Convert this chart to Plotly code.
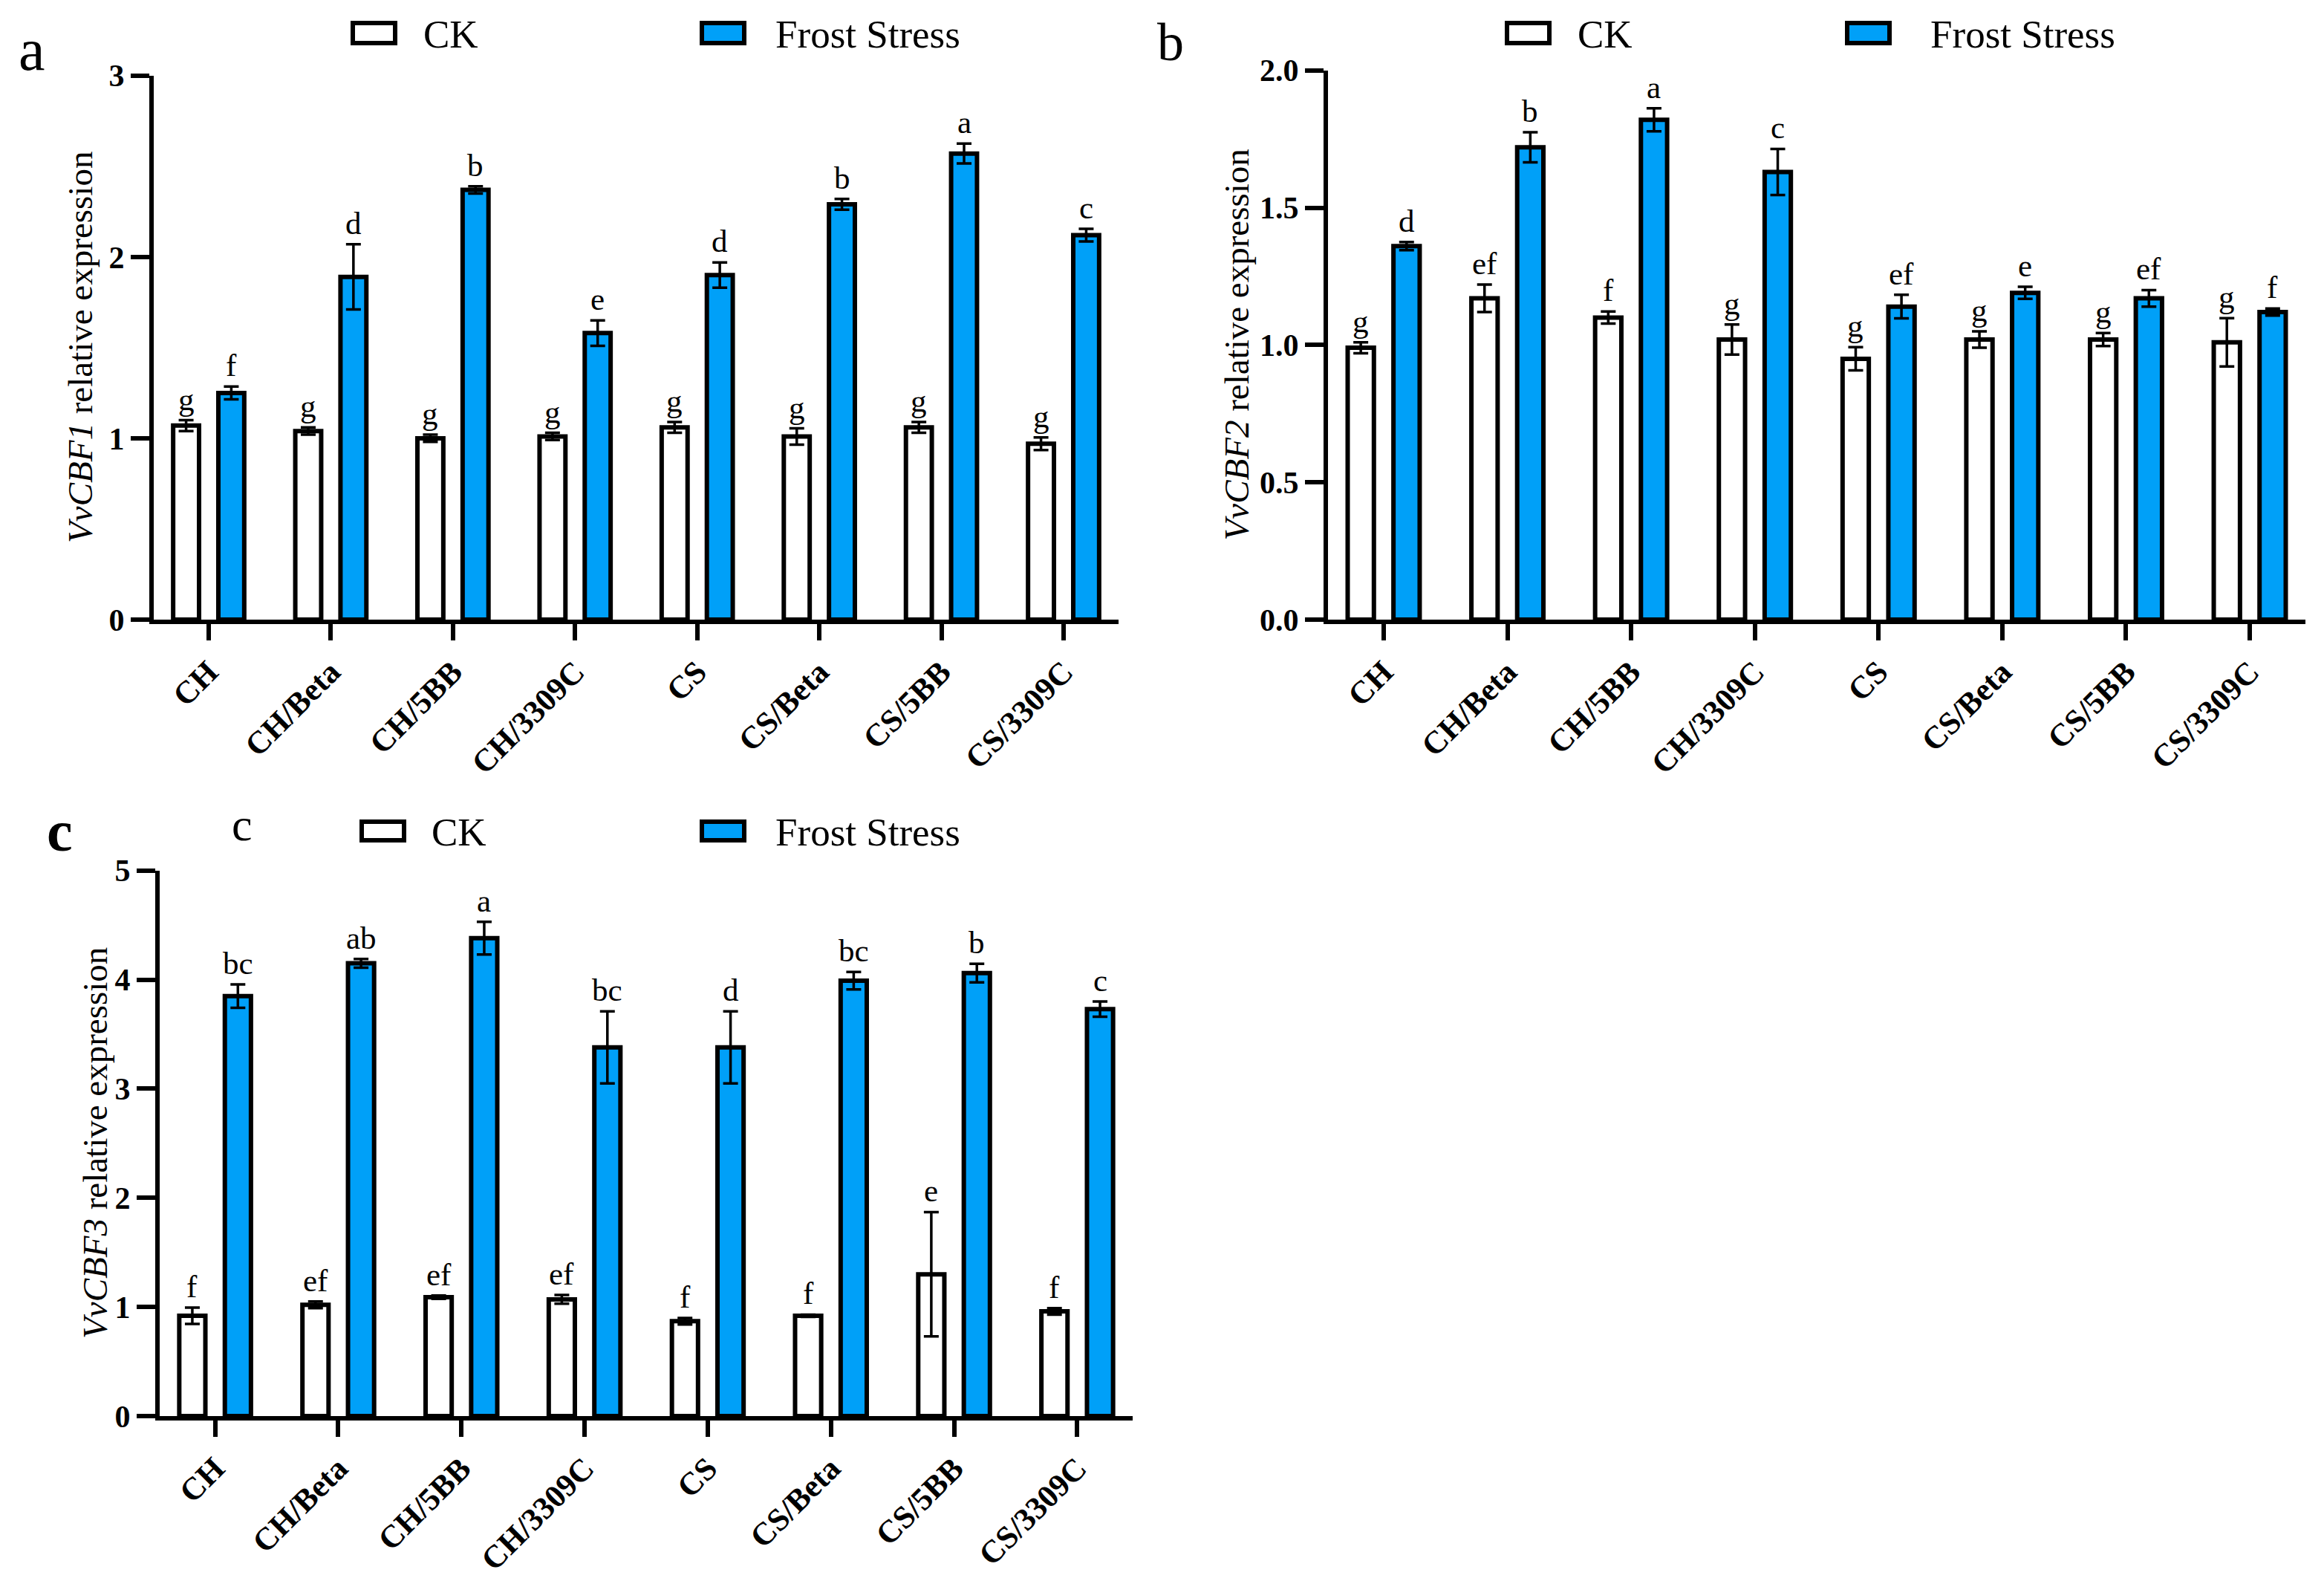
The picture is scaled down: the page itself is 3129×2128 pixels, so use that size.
import plotly.graph_objects as go

# ---------------- data ----------------
categories = ["CH", "CH/Beta", "CH/5BB", "CH/3309C", "CS", "CS/Beta", "CS/5BB", "CS/3309C"]
series_names = ["CK", "Frost Stress"]

cbf1_ck = [1.07, 1.04, 1.00, 1.01, 1.06, 1.01, 1.06, 0.97]
cbf1_ck_err = [0.03, 0.02, 0.02, 0.02, 0.03, 0.045, 0.03, 0.035]
cbf1_fs = [1.25, 1.89, 2.37, 1.58, 1.90, 2.29, 2.57, 2.12]
cbf1_fs_err = [0.035, 0.18, 0.02, 0.07, 0.07, 0.03, 0.055, 0.035]
cbf1_ck_sig = ["g", "g", "g", "g", "g", "g", "g", "g"]
cbf1_fs_sig = ["f", "d", "b", "e", "d", "b", "a", "c"]

cbf2_ck = [0.99, 1.17, 1.10, 1.02, 0.95, 1.02, 1.02, 1.01]
cbf2_ck_err = [0.02, 0.05, 0.022, 0.055, 0.042, 0.03, 0.024, 0.088]
cbf2_fs = [1.36, 1.72, 1.82, 1.63, 1.14, 1.19, 1.17, 1.12]
cbf2_fs_err = [0.015, 0.055, 0.042, 0.084, 0.043, 0.022, 0.03, 0.013]
cbf2_ck_sig = ["g", "ef", "f", "g", "g", "g", "g", "g"]
cbf2_fs_sig = ["d", "b", "a", "c", "ef", "e", "ef", "f"]

cbf3_ck = [0.92, 1.02, 1.09, 1.07, 0.87, 0.92, 1.30, 0.96]
cbf3_ck_err = [0.075, 0.03, 0.015, 0.04, 0.03, 0.01, 0.57, 0.03]
cbf3_fs = [3.85, 4.15, 4.38, 3.38, 3.38, 3.99, 4.06, 3.73]
cbf3_fs_err = [0.107, 0.04, 0.15, 0.33, 0.33, 0.08, 0.085, 0.07]
cbf3_ck_sig = ["f", "ef", "ef", "ef", "f", "f", "e", "f"]
cbf3_fs_sig = ["bc", "ab", "a", "bc", "d", "bc", "b", "c"]

gene_names = ["VvCBF1", "VvCBF2", "VvCBF3"]
y_max = [3, 2, 5]
y_dtick = [1, 0.5, 1]
y_fmt = ["d", ".1f", "d"]

# ---------------- style / layout ----------------
W, H = 3129, 2128
FONT = "Times New Roman, Liberation Serif, serif"
BLUE = "#00A0F8"
LW = 6

def px(x):
    return x / W

def py(y):
    # vertical pixel position (target) -> paper fraction
    y_adj = (y - 31) / 0.982
    return 1 - y_adj / H

# pixel boxes of each plot area: (left, right, top, bottom)
boxes = [(199, 1498, 103, 838), (1780, 3096, 96, 838), (207, 1517, 1177, 1914)]
title_x = [100, 1657, 120]
legend_pos = [
    dict(ck_box=467, ck_txt=560, fs_box=937, fs_txt=1034, y0=32, y1=59),
    dict(ck_box=2021, ck_txt=2114, fs_box=2479, fs_txt=2589, y0=32, y1=59),
    dict(ck_box=479, ck_txt=571, fs_box=937, fs_txt=1034, y0=1111, y1=1136),
]

panels = [
    (cbf1_ck, cbf1_ck_err, cbf1_fs, cbf1_fs_err, cbf1_ck_sig, cbf1_fs_sig),
    (cbf2_ck, cbf2_ck_err, cbf2_fs, cbf2_fs_err, cbf2_ck_sig, cbf2_fs_sig),
    (cbf3_ck, cbf3_ck_err, cbf3_fs, cbf3_fs_err, cbf3_ck_sig, cbf3_fs_sig),
]

fig = go.Figure()
annotations = []
shapes = []
GROUP_OFF = 0.185

for k, (ck, ck_e, fs, fs_e, ck_s, fs_s) in enumerate(panels):
    sfx = "" if k == 0 else str(k + 1)
    xa, ya = "x" + sfx, "y" + sfx
    for name, vals, errs, color in [(series_names[0], ck, ck_e, "white"),
                                    (series_names[1], fs, fs_e, BLUE)]:
        fig.add_trace(go.Bar(
            x=categories, y=vals, name=name, xaxis=xa, yaxis=ya,
            marker=dict(color=color, line=dict(color="black", width=LW)),
            error_y=dict(type="data", array=errs, visible=True,
                         color="black", thickness=3.5, width=10),
            showlegend=False,
        ))
    # significance letters
    for i in range(len(categories)):
        for off, v, e, s in [(-GROUP_OFF, ck[i], ck_e[i], ck_s[i]),
                             (GROUP_OFF, fs[i], fs_e[i], fs_s[i])]:
            annotations.append(dict(
                x=i + off, y=v + e, xref=xa, yref=ya, text=s, showarrow=False,
                xanchor="center", yanchor="bottom", yshift=3,
                font=dict(family=FONT, size=43, color="black")))

    l, r, t, b = boxes[k]
    fig.layout["xaxis" + sfx] = dict(
        domain=[px(l), px(r)], anchor=ya, type="category",
        range=[-0.45, 7.45], showline=True, linecolor="black", linewidth=LW,
        ticks="outside", ticklen=22, tickwidth=LW, tickcolor="black",
        tickangle=-45, showgrid=False, zeroline=False,
        tickfont=dict(family=FONT, size=43, color="black", weight="bold"),
    )
    fig.layout["yaxis" + sfx] = dict(
        domain=[py(b), py(t)], anchor=xa, range=[0, y_max[k]], dtick=y_dtick[k],
        tickformat=y_fmt[k], showline=True, linecolor="black", linewidth=LW,
        ticks="outside", ticklen=25, tickwidth=LW, tickcolor="black",
        showgrid=False, zeroline=False,
        tickfont=dict(family=FONT, size=42, color="black", weight="bold"),
    )
    # x axis overhang to the left of the y axis
    shapes.append(dict(type="line", xref="paper", yref=ya,
                       x0=px(l - 24), x1=px(l), y0=0, y1=0,
                       line=dict(color="black", width=LW)))
    # y axis title
    annotations.append(dict(
        x=px(title_x[k]), y=py((t + b) / 2), xref="paper", yref="paper",
        text="<i>" + gene_names[k] + "</i> relative expression",
        textangle=-90, showarrow=False, xanchor="center", yanchor="middle",
        font=dict(family=FONT, size=47, color="black")))
    # legend drawn by hand
    lp = legend_pos[k]
    for bx, tx, fill, label in [(lp["ck_box"], lp["ck_txt"], "white", series_names[0]),
                                (lp["fs_box"], lp["fs_txt"], BLUE, series_names[1])]:
        shapes.append(dict(type="rect", xref="paper", yref="paper",
                           x0=px(bx), x1=px(bx + 57), y0=py(lp["y1"]), y1=py(lp["y0"]),
                           fillcolor=fill, line=dict(color="black", width=LW)))
        annotations.append(dict(
            x=px(tx), y=py((lp["y0"] + lp["y1"]) / 2 + 2), xref="paper", yref="paper",
            text=label, showarrow=False, xanchor="left", yanchor="middle",
            font=dict(family=FONT, size=53, color="black")))

# panel letters
for txt, x, y, size, bold in [("a", 35, 68, 80, False), ("b", 1568, 58, 72, False),
                              ("c", 72, 1124, 78, True), ("c", 318, 1115, 62, False)]:
    annotations.append(dict(
        x=px(x), y=py(y), xref="paper", yref="paper", text=txt, showarrow=False,
        xanchor="center", yanchor="middle",
        font=dict(family=FONT, size=size, color="black",
                  weight="bold" if bold else "normal")))

fig.update_layout(
    width=W, height=H, margin=dict(l=0, r=0, t=0, b=0),
    paper_bgcolor="white", plot_bgcolor="white",
    barmode="group", bargap=0.26, bargroupgap=0.427,
    font=dict(family=FONT, color="black"),
    annotations=annotations, shapes=shapes, showlegend=False,
)

fig.write_html("out.html")
